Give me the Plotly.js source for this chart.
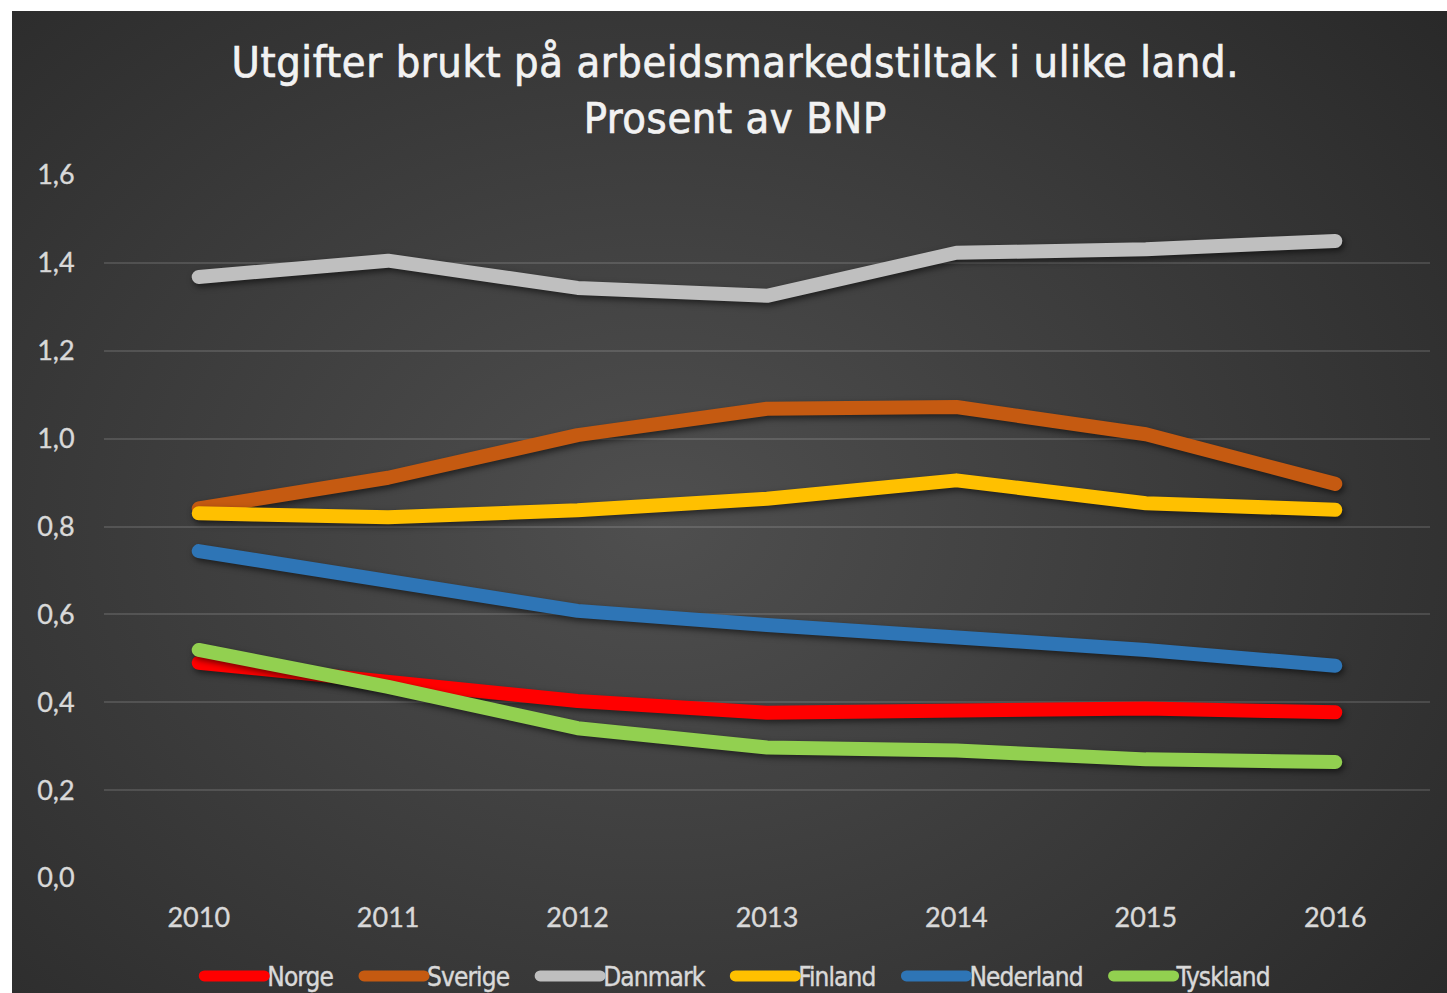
<!DOCTYPE html>
<html>
<head>
<meta charset="utf-8">
<script src="https://cdn.plot.ly/plotly-3.0.1.min.js"></script>
<style>
  html, body { margin: 0; padding: 0; background: #ffffff; }
  #wrap {
    position: absolute; left: 12px; top: 11px; width: 1435px; height: 982px;
    background: radial-gradient(ellipse 75% 85% at 45% 52%, #4f4f4f 0%, #3d3d3d 45%, #272727 100%);
  }
  #chart { width: 1435px; height: 982px; }
  .scatterlayer .js-line { stroke-linecap: round; stroke-linejoin: round; filter: drop-shadow(2px 3px 3px rgba(0,0,0,0.55)); }
  .legend .legendlines path { stroke-linecap: round; }
  .gtitle { letter-spacing: 0.6px; stroke: #f2f2f2; stroke-width: 0.7px; }
  .legend text.legendtext { letter-spacing: -0.9px; stroke: #d9d9d9; stroke-width: 0.4px; }
  .xtick text, .ytick text { stroke: #d9d9d9; stroke-width: 0.35px; }
</style>
</head>
<body>
<div id="wrap"><div id="chart"></div></div>
<script>
const years = ['2010', '2011', '2012', '2013', '2014', '2015', '2016'];
const norge     = [0.490, 0.446, 0.403, 0.376, 0.378, 0.386, 0.377];
const sverige   = [0.841, 0.911, 1.008, 1.068, 1.072, 1.010, 0.897];
const danmark   = [1.368, 1.405, 1.343, 1.325, 1.423, 1.431, 1.450];
const finland   = [0.830, 0.821, 0.837, 0.863, 0.905, 0.853, 0.838];
const nederland = [0.744, 0.678, 0.608, 0.576, 0.551, 0.519, 0.483];
const tyskland  = [0.519, 0.435, 0.341, 0.297, 0.290, 0.270, 0.264];

const names  = ['Norge', 'Sverige', 'Danmark', 'Finland', 'Nederland', 'Tyskland'];
const series = [norge, sverige, danmark, finland, nederland, tyskland];
const colors = ['#ff0000', '#c55a11', '#bfbfbf', '#ffc000', '#2e75b6', '#92d050'];

const traces = series.map((vals, i) => ({
  type: 'scatter', mode: 'lines', name: names[i], x: years, y: vals,
  line: { color: colors[i], width: 14 }, hoverinfo: 'skip'
}));

const condensed = '"DejaVu Sans Condensed", "Liberation Sans Narrow", "DejaVu Sans", sans-serif';

const layout = {
  width: 1435, height: 982,
  paper_bgcolor: 'rgba(0,0,0,0)', plot_bgcolor: 'rgba(0,0,0,0)',
  margin: { l: 92, r: 17, t: 164, b: 115, autoexpand: false },
  separators: ', ',
  title: {
    text: 'Utgifter brukt på arbeidsmarkedstiltak i ulike land.<br>Prosent av BNP',
    font: { family: condensed, size: 43, color: '#f2f2f2' },
    x: 0.504, xanchor: 'center', y: 0.933, yanchor: 'top'
  },
  xaxis: {
    type: 'category', range: [-0.5, 6.5], showgrid: false, zeroline: false, showline: false,
    ticks: 'outside', ticklen: 16, tickcolor: 'rgba(0,0,0,0)',
    tickfont: { family: 'Lato, "Open Sans", sans-serif', size: 27, color: '#d9d9d9' }
  },
  yaxis: {
    range: [0, 1.6], dtick: 0.2, tickformat: '.1f', showgrid: true,
    gridcolor: 'rgba(255,255,255,0.13)', gridwidth: 2, zeroline: false, showline: false,
    ticks: 'outside', ticklen: 23, tickcolor: 'rgba(0,0,0,0)',
    tickfont: { family: 'Lato, "Open Sans", sans-serif', size: 27, color: '#d9d9d9' }
  },
  showlegend: true,
  legend: {
    orientation: 'h', x: 0.49, xanchor: 'center', y: -0.1394, yanchor: 'middle',
    font: { family: condensed, size: 26, color: '#d9d9d9' },
    itemgap: 30, bgcolor: 'rgba(0,0,0,0)'
  }
};

function fixLegend(gd) {
  const legend = gd.querySelector('g.legend');
  if (!legend) return;
  const groups = Array.from(legend.querySelectorAll('g.traces'));
  const widths = [];
  groups.forEach(g => {
    const path = g.querySelector('.legendlines path');
    if (path) { path.setAttribute('d', 'M0,0h60'); path.style.strokeWidth = '11px'; }
    const t = g.querySelector('text.legendtext');
    t.setAttribute('x', 63);
    widths.push(63 + t.getComputedTextLength());
  });
  const gap = 31;
  const total = widths.reduce((a, b) => a + b, 0) + gap * (widths.length - 1);
  const re = /translate\(\s*([-\d.eE]+)[\s,]+([-\d.eE]+)\s*\)/;
  const m = re.exec(legend.getAttribute('transform') || '');
  const lx = m ? parseFloat(m[1]) : 0;
  let x = 725 - lx - total / 2;
  groups.forEach((g, i) => {
    const tm = re.exec(g.getAttribute('transform') || '');
    const gy = tm ? parseFloat(tm[2]) : 0;
    g.setAttribute('transform', 'translate(' + x + ',' + gy + ')');
    x += widths[i] + gap;
  });
  legend.querySelectorAll('[clip-path]').forEach(e => e.removeAttribute('clip-path'));
}

Plotly.newPlot('chart', traces, layout, { displayModeBar: false, staticPlot: true }).then(gd => {
  fixLegend(gd);
});
</script>
</body>
</html>
